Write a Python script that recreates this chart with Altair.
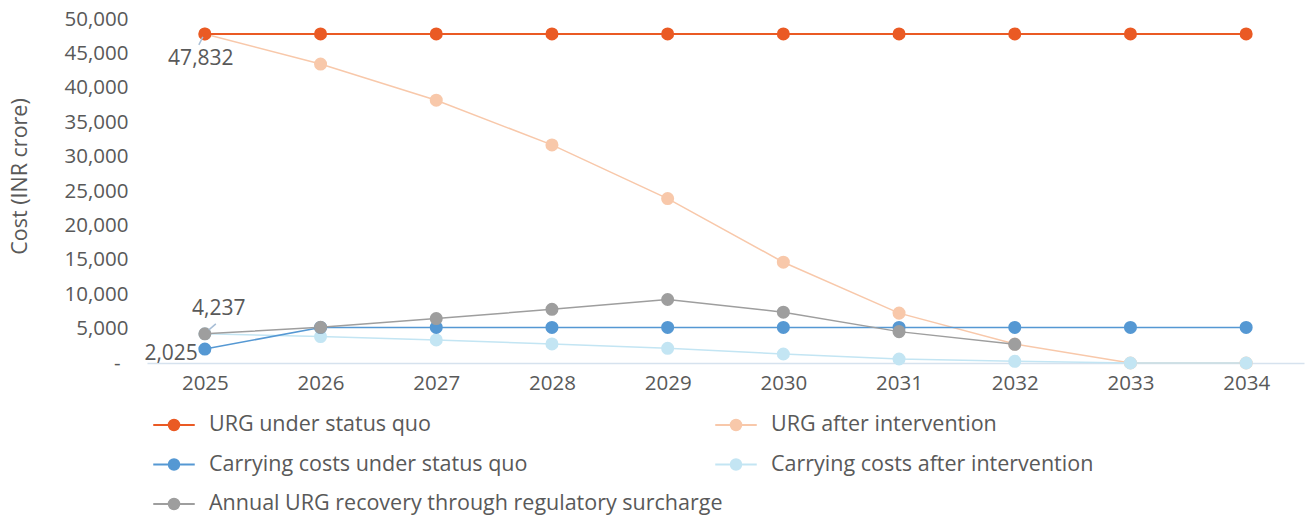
import altair as alt
import pandas as pd

years = [2025, 2026, 2027, 2028, 2029, 2030, 2031, 2032, 2033, 2034]
urg_status_quo = [47832, 47832, 47832, 47832, 47832, 47832, 47832, 47832, 47832, 47832]
urg_after = [47832, 43450, 38200, 31700, 23900, 14650, 7250, 2750, 0, 0]
carry_status_quo = [2025, 5170, 5170, 5170, 5170, 5170, 5170, 5170, 5170, 5170]
carry_after = [4237, 3840, 3350, 2770, 2140, 1310, 580, 250, 0, 0]
annual_recovery = [4237, 5190, 6460, 7810, 9230, 7390, 4560, 2720, None, None]

S1 = "URG under status quo"
S2 = "URG after intervention"
S3 = "Carrying costs under status quo"
S4 = "Carrying costs after intervention"
S5 = "Annual URG recovery through regulatory surcharge"

series = {S1: urg_status_quo, S2: urg_after, S3: carry_status_quo, S4: carry_after, S5: annual_recovery}
rows = []
for name, vals in series.items():
    for y, v in zip(years, vals):
        if v is not None:
            rows.append({"year": y, "value": v, "series": name})
df = pd.DataFrame(rows)

ann_year = [2025, 2025, 2025]
ann_value = [47832, 4237, 2025]
ann_text = ["47,832", "4,237", "2,025"]
ann = pd.DataFrame({"year": ann_year, "value": ann_value, "text": ann_text})

FONT = "Open Sans"
GRAY = "#595959"

x_enc = alt.X("year:O", scale=alt.Scale(type="point", padding=0.5),
              axis=alt.Axis(title=None, labelAngle=0, labelFontSize=20.5, labelColor=GRAY,
                            labelFont=FONT, ticks=False, domainColor="#d6e2ee", domainWidth=1.5,
                            labelPadding=10))
y_enc = alt.Y("value:Q", scale=alt.Scale(domain=[0, 50000], nice=False),
              axis=alt.Axis(title="Cost (INR crore)", values=list(range(0, 50001, 5000)),
                            labelExpr="datum.value == 0 ? '-' : format(datum.value, ',')",
                            labelFontSize=20.5, labelColor=GRAY, labelFont=FONT, grid=False,
                            labelOverlap=False, labelBound=False,
                            domain=False, ticks=False,
                            labelPadding={"condition": {"test": "datum.value == 0", "value": 27}, "value": 19},
                            titleFontSize=21.5, titleColor=GRAY, titleFont=FONT,
                            titleFontWeight="normal", titleX=-116, titleY=157))

SYM = ("M-2,-0.02L2,-0.02L2,0.02L-2,0.02Z "
       "M-0.55,0A0.55,0.55 0 1,1 0.55,0A0.55,0.55 0 1,1 -0.55,0Z")


def group(names, colors, lx, ly):
    sub = df[df["series"].isin(names)]
    legend = alt.Legend(title=None, orient="none", legendX=lx, legendY=ly, direction="vertical",
                        symbolType=SYM, symbolSize=400, symbolStrokeWidth=1.5,
                        labelFontSize=21.5, labelColor=GRAY, labelFont=FONT,
                        labelOffset=24, rowPadding=17.5, padding=0, labelLimit=700)
    color = alt.Color("series:N", scale=alt.Scale(domain=names, range=colors), legend=legend,
                      sort=names)
    base = alt.Chart(sub)
    line = base.mark_line().encode(
        x=x_enc, y=y_enc, color=color,
        strokeWidth=alt.condition(alt.datum.series == S1, alt.value(2), alt.value(1.5)),
        order=alt.Order("year:Q"))
    pts = base.mark_point(filled=True, size=170, opacity=1, shape="circle").encode(
        x=x_enc, y=y_enc, color=color)
    return alt.layer(line, pts)


g2 = group([S2, S4], ["#f8c8aa", "#c3e5f3"], 578, 395)
g1 = group([S1, S3, S5], ["#ea5a24", "#5598d3", "#9e9e9e"], 16, 395)

leader1 = alt.Chart(ann.iloc[[0]]).mark_rule(color="#a8bed6", strokeWidth=1.5, xOffset=-2, yOffset=3,
                                              x2Offset=-6, y2Offset=11).encode(
    x=x_enc, y=y_enc, x2=alt.X2("year"), y2=alt.Y2("value"))
leader2 = alt.Chart(ann.iloc[[1]]).mark_rule(color="#a8bed6", strokeWidth=1.5, xOffset=4, yOffset=-4,
                                              x2Offset=11, y2Offset=-10).encode(
    x=x_enc, y=y_enc, x2=alt.X2("year"), y2=alt.Y2("value"))

t1 = alt.Chart(ann.iloc[[0]]).mark_text(fontSize=21, font=FONT, color=GRAY, dx=-4, dy=25).encode(
    x=x_enc, y=y_enc, text="text:N")
t2 = alt.Chart(ann.iloc[[1]]).mark_text(fontSize=21, font=FONT, color=GRAY, dx=14, dy=-25).encode(
    x=x_enc, y=y_enc, text="text:N")
t3 = alt.Chart(ann.iloc[[2]]).mark_text(fontSize=21, font=FONT, color=GRAY, align="right", dx=-7, dy=5).encode(
    x=x_enc, y=y_enc, text="text:N")

chart = alt.layer(g2, g1, leader1, leader2, t1, t2, t3).resolve_scale(
    color="independent"
).properties(
    width=1157, height=344,
    padding={"left": 147, "top": 19, "right": 2, "bottom": 153},
    autosize=alt.AutoSizeParams(type="none"),
    background="white",
).configure_view(stroke=None)

chart.save("out.html", embed_options={"renderer": "svg", "actions": False})
